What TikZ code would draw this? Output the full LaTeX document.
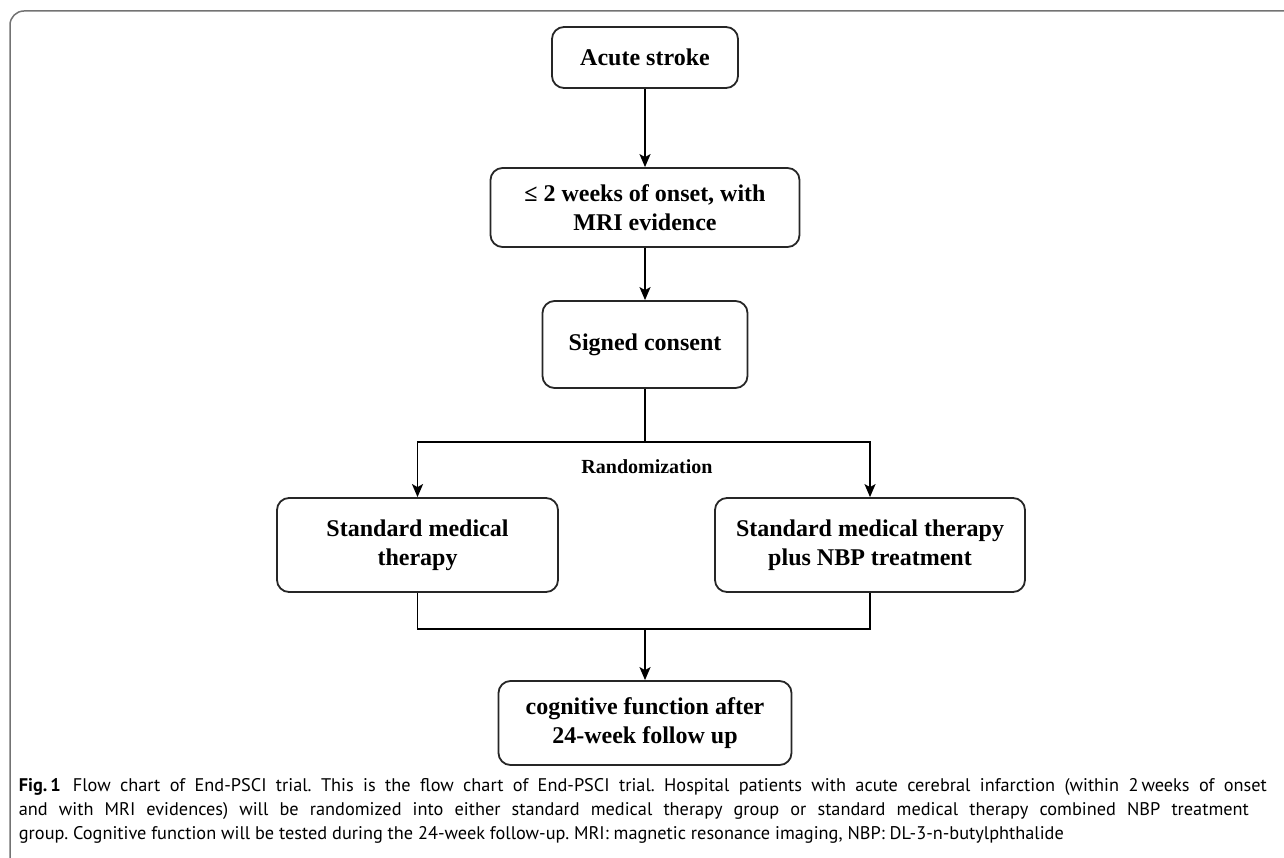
\documentclass[tikz,border=0pt]{standalone}
\usepackage{fontspec}
\setmainfont{Liberation Serif}
\newfontfamily\capfont{PT Sans}
\usetikzlibrary{arrows.meta}
\frenchspacing

\begin{document}
\begin{tikzpicture}[x=1pt,y=-1pt,line width=1.8pt,
  box/.style={draw=black!85,rounded corners=12pt,align=center,inner sep=0pt,
    font=\fontsize{24}{29}\selectfont\bfseries},
  arr/.style={-{Stealth[length=13pt,width=11pt,inset=3pt]}},
  capline/.style={anchor=base west,inner sep=0pt,font=\capfont\fontsize{18.3}{22}\selectfont}]
\useasboundingbox (0,0) rectangle (1284,858);
\clip (0,0) rectangle (1284,858);
\draw[black!55,line width=1.5pt,rounded corners=14pt] (1300,11) -- (10,11) -- (10,880) -- (40,880);
\node[box,minimum width=186pt,minimum height=61pt] (stroke) at (645,57.5) {Acute stroke};
\node[box,minimum width=309pt,minimum height=79pt] (onset) at (645,207.5) {≤ 2 weeks of onset, with\\MRI evidence};
\node[box,minimum width=205pt,minimum height=87pt] (consent) at (645,344.5) {Signed consent};
\node[box,minimum width=281pt,minimum height=94pt] (standard) at (417.5,545) {Standard medical\\therapy};
\node[box,minimum width=310pt,minimum height=94pt] (nbp) at (870,545) {Standard medical therapy\\plus NBP treatment};
\node[box,minimum width=293pt,minimum height=84pt] (followup) at (645,723) {cognitive function after\\24-week follow up};
\node[font=\fontsize{20}{24}\selectfont\bfseries] (random) at (647,467) {Randomization};
\coordinate (split) at (645,442);
\coordinate (merge) at (645,629);
\draw[arr] (stroke) -- (onset);
\draw[arr] (onset) -- (consent);
\draw (consent) -- (split);
\draw[arr] (split) -| (standard.north);
\draw[arr] (split) -| (nbp.north);
\draw (standard.south) |- (merge) -| (nbp.south);
\draw[arr] (merge) -- (followup);
\node[capline] (cap1) at (18,791) {\makebox[1248pt][s]{\mbox{\textbf{Fig.\,1}\hspace*{12pt}Flow} chart of End-PSCI trial. This is the flow chart of End-PSCI trial. Hospital patients with acute cerebral infarction (within 2\,weeks of onset}};
\node[capline] (cap2) at (18,815) {\makebox[1230pt][s]{and with MRI evidences) will be randomized into either standard medical therapy group or standard medical therapy combined NBP treatment}};
\node[capline] (cap3) at (18,839) {group. Cognitive function will be tested during the 24-week follow-up. MRI: magnetic resonance imaging, NBP: DL-3-n-butylphthalide};
\end{tikzpicture}
\end{document}
